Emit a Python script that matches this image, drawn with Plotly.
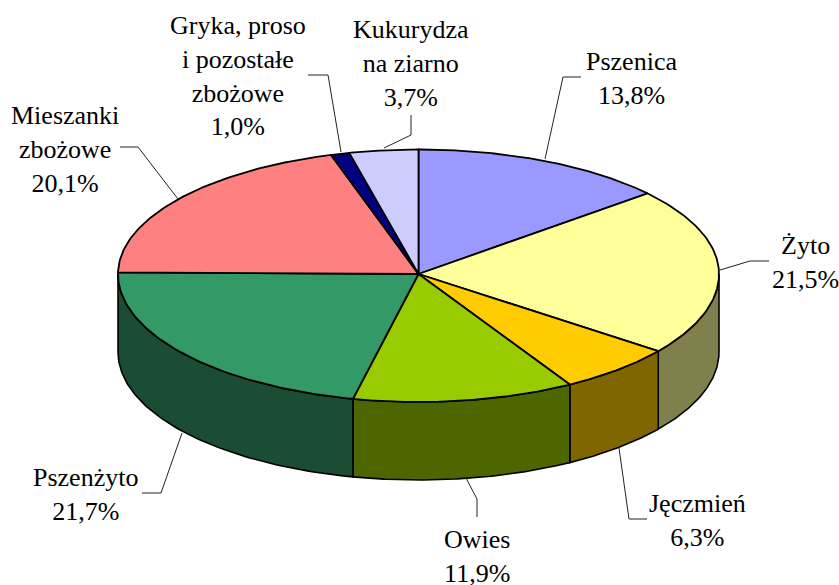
import numpy as np
import plotly.graph_objects as go

# Data
categories = ["Pszenica", "Żyto", "Jęczmień", "Owies", "Pszenżyto",
              "Mieszanki zbożowe", "Gryka, proso i pozostałe zbożowe", "Kukurydza na ziarno"]
shares = [13.8, 21.5, 6.3, 11.9, 21.7, 20.1, 1.0, 3.7]
label_text = ["Pszenica<br>13,8%", "Żyto<br>21,5%", "Jęczmień<br>6,3%", "Owies<br>11,9%",
              "Pszenżyto<br>21,7%", "Mieszanki<br>zbożowe<br>20,1%",
              "Gryka, proso<br>i pozostałe<br>zbożowe<br>1,0%", "Kukurydza<br>na ziarno<br>3,7%"]
top_colors = ["#9999FF", "#FFFF99", "#FFCC00", "#99CC00", "#339966", "#FF8080", "#000080", "#CCCCFF"]
side_colors = ["#4D4D80", "#80804D", "#806600", "#4D6600", "#1A4D33", "#804040", "#000040", "#666680"]

# Layout of the drawing (pixels of the 839x585 page)
W, H = 839, 585
CX, CY = 418.5, 274
RX, RY_TOP, RY_BOTTOM = 300.5, 124.5, 128
DEPTH = 78
label_pos = [(631, 78), (805, 262), (697, 520), (477, 556),
             (85, 494), (65, 149), (238, 76), (411, 63)]
leaders = [
    [(545, 159), (563, 77), (581, 77)],
    [(720, 270), (750, 261), (769, 261)],
    [(619, 448), (629, 519), (647, 519)],
    [(466, 478), (477, 499), (477, 517)],
    [(182, 433), (161, 493), (142, 493)],
    [(178, 199), (138, 147), (120, 147)],
    [(341, 152), (328, 75), (308, 75)],
    [(384, 148), (411, 135), (411, 115)],
]


def rim(t_deg, drop=0.0):
    t = np.radians(t_deg)
    c = np.cos(t)
    ry = np.where(c >= 0, RY_TOP, RY_BOTTOM)
    return CX + RX * np.sin(t), CY - ry * c + drop


edges = np.concatenate([[0], np.cumsum(shares)]) / sum(shares) * 360
fig = go.Figure()

# Side walls: only the front half of the rim (90 to 270 degrees) shows
for i in range(len(shares)):
    a, b = max(edges[i], 90), min(edges[i + 1], 270)
    if a >= b:
        continue
    t = np.linspace(a, b, 80)
    x1, y1 = rim(t)
    x2, y2 = rim(t[::-1], DEPTH)
    fig.add_trace(go.Scatter(
        x=np.r_[x1, x2, x1[0]], y=np.r_[y1, y2, y1[0]], mode="lines", fill="toself",
        fillcolor=side_colors[i], line=dict(color="black", width=1.6),
        hoverinfo="skip", showlegend=False))

# Top faces
for i in range(len(shares)):
    t = np.linspace(edges[i], edges[i + 1], 100)
    x, y = rim(t)
    fig.add_trace(go.Scatter(
        x=np.r_[CX, x, CX], y=np.r_[CY, y, CY], mode="lines", fill="toself",
        fillcolor=top_colors[i], line=dict(color="black", width=1.8),
        name=categories[i], hoverinfo="skip", showlegend=False))

# Leader lines
shapes = []
for pts in leaders:
    path = "M " + " L ".join(f"{px} {py}" for px, py in pts)
    shapes.append(dict(type="path", path=path, xref="x", yref="y",
                       line=dict(color="#222222", width=1)))

# Labels
annotations = [
    dict(x=px, y=py, xref="x", yref="y", text=txt, showarrow=False,
         xanchor="center", yanchor="middle", align="center",
         font=dict(family="Liberation Serif", size=26, color="black"))
    for (px, py), txt in zip(label_pos, label_text)
]

fig.update_layout(
    width=W, height=H, margin=dict(l=0, r=0, t=0, b=0),
    paper_bgcolor="white", plot_bgcolor="white",
    xaxis=dict(range=[0, W], visible=False, fixedrange=True),
    yaxis=dict(range=[H, 0], visible=False, fixedrange=True),
    shapes=shapes, annotations=annotations, showlegend=False,
)
fig.write_html("out.html", config=dict(displayModeBar=False),
               post_script="document.body.style.margin='0';document.body.style.padding='0';"
                           "document.documentElement.style.overflow='hidden';")
